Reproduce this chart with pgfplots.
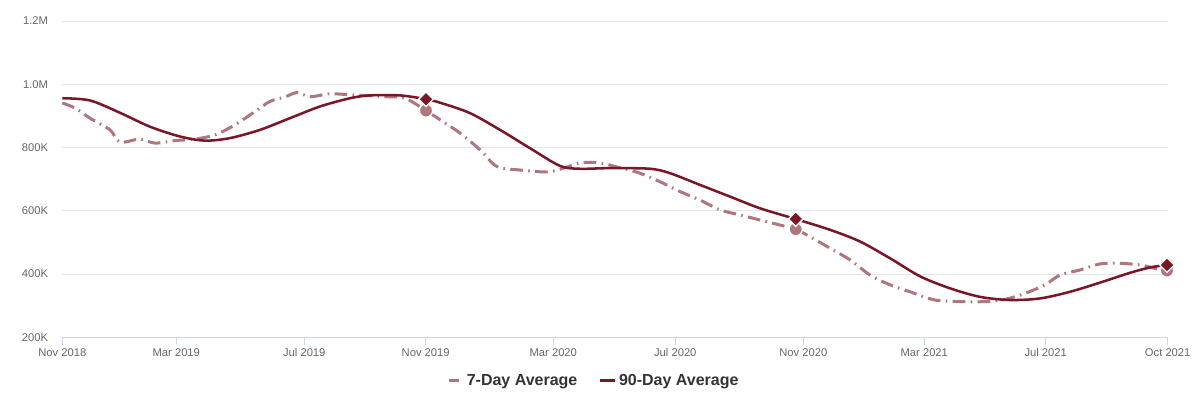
\documentclass[border=0pt]{standalone}
\usepackage{fontspec}
\setmainfont{Liberation Sans}
\usepackage{pgfplots}
\pgfplotsset{compat=1.18}

\definecolor{darkline}{RGB}{122,22,38}
\definecolor{lightline}{RGB}{176,118,126}
\definecolor{gridgray}{RGB}{230,230,230}
\definecolor{axisblue}{RGB}{204,214,235}
\definecolor{ticktext}{RGB}{102,102,102}
\definecolor{legtext}{RGB}{51,51,51}

% x is the horizontal position in the source image (pixels), y in thousands
\begin{document}
\begin{tikzpicture}
\useasboundingbox (-46.725pt,-56.775pt) rectangle (853.275pt,253pt);
\begin{axis}[
    scale only axis,
    width=829.05pt,
    height=237.2pt,
    xmin=62.3, xmax=1167.7,
    ymin=200, ymax=1200,
    clip=false,
    axis x line*=bottom,
    axis y line*=left,
    x axis line style={-, color=axisblue, line width=0.75pt},
    y axis line style={draw=none},
    xtick={62.3,176.3,304.3,425.7,553.3,675.3,803.3,924.3,1045.7,1167.7},
    xticklabels={Nov 2018,Mar 2019,Jul 2019,Nov 2019,Mar 2020,Jul 2020,Nov 2020,Mar 2021,Jul 2021,Oct 2021},
    ytick={200,400,600,800,1000,1200},
    yticklabels={200K,400K,600K,800K,1.0M,1.2M},
    tick align=outside,
    major tick length=6pt,
    xtick style={color=axisblue, line width=0.75pt},
    ytick style={draw=none},
    ymajorgrids,
    major grid style={color=gridgray, line width=0.75pt},
    ticklabel style={font=\fontsize{8.4}{10}\selectfont, text=ticktext},
    xticklabel style={anchor=base, inner sep=0pt, yshift=-8.4pt},
    yticklabel style={anchor=east, inner sep=0pt, xshift=-4.5pt},
    legend style={at={(0.4814,-0.138)}, anchor=center, draw=none, fill=none,
        legend columns=2, font=\bfseries\fontsize{12}{14}\selectfont, text=legtext,
        /tikz/every even column/.append style={column sep=14pt}},
]
\addlegendimage{legend image code/.code={\draw[lightline, line width=2.25pt] (0pt,0pt) -- (7pt,0pt); \path (11pt,0pt);}}
\addlegendentry{7-Day Average}
\addlegendimage{legend image code/.code={\draw[darkline, line width=2.25pt] (0pt,0pt) -- (11pt,0pt);}}
\addlegendentry{90-Day Average}

% 7-day average
\addplot[lightline, line width=2.25pt, smooth, no marks, forget plot,
    dash pattern=on 9.5pt off 4pt on 1.2pt off 4pt] coordinates {
(62.3,941) (75,925) (90,893) (110,856) (120,817) (140,827) (155,814) (175,822)
(195,827) (215,840) (235,872) (255,914) (270,946) (285,960) (297,974) (310,961)
(330,970) (350,967) (385,961) (405,956) (426,917) (440,888) (460,846) (480,793)
(497,740) (520,729) (550,724) (580,751) (600,751) (625,732) (640,719) (660,692)
(680,661) (700,634) (720,603) (740,587) (760,571) (780,555) (795.7,542) (810,518)
(830,482) (850,445) (870,397) (890,366) (910,344) (935,318) (960,313) (985,313)
(1005,320) (1025,339) (1045,366) (1060,397) (1080,413) (1100,432) (1120,434)
(1140,429) (1155,418) (1167,411)
};

% 90-day average
\addplot[darkline, line width=1.9pt, smooth, no marks, forget plot] coordinates {
(62.3,956) (90,949) (120,910) (150,866) (180,835) (205,822) (230,830) (260,856)
(290,893) (320,930) (350,956) (370,965) (400,965) (426,953) (440,942) (470,909)
(500,856) (530,798) (560,742) (580,733) (610,735) (650,733) (670,719) (700,682)
(730,645) (760,608) (795.7,574) (830,540) (860,503) (890,450) (920,393) (950,355)
(980,328) (1010,318) (1040,323) (1070,344) (1100,373) (1130,404) (1150,421)
(1167,429)
};

% highlighted points
\addplot[only marks, forget plot, mark=*, mark size=5pt,
    mark options={fill=lightline, draw=white, line width=1pt}] coordinates {
(426,917) (795.7,542) (1167,411)
};
\addplot[only marks, forget plot, mark=diamond*, mark size=5.5pt,
    mark options={fill=darkline, draw=white, line width=1pt, xscale=1.333}] coordinates {
(426,953) (795.7,574) (1167,429)
};
\end{axis}
\end{tikzpicture}
\end{document}
